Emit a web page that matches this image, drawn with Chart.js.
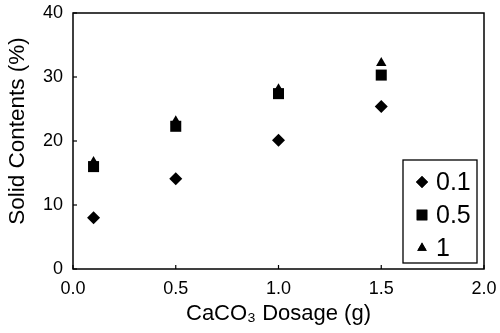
<!DOCTYPE html>
<html><head><meta charset="utf-8">
<script src="https://cdn.jsdelivr.net/npm/chart.js@4/dist/chart.umd.min.js"></script>
<style>html,body{margin:0;padding:0;background:#fff}#w{width:500px;height:333px}</style>
</head><body><div id="w"><canvas id="c"></canvas></div>
<script>
const dosage = [0.1, 0.5, 1.0, 1.5];
const series01 = [8.0, 14.1, 20.1, 25.4];
const series05 = [16.0, 22.3, 27.4, 30.3];
const series1 = [16.7, 23.1, 28.1, 32.2];
const seriesLabels = ['0.1', '0.5', '1'];
const xTicks = [0, 0.5, 1.0, 1.5, 2.0];
const yTicks = [0, 10, 20, 30, 40];
const yTitle = 'Solid Contents (%)';
const xTitle = 'CaCO₃ Dosage (g)';

const FONT = '"Liberation Sans", Arial, sans-serif';
const toPts = ys => dosage.map((x, i) => ({x, y: ys[i]}));

const boxPlugin = {
  id: 'box',
  afterDraw(chart) {
    const {ctx, chartArea: a, scales} = chart;
    ctx.save();
    ctx.strokeStyle = '#000';
    ctx.lineWidth = 1.5;
    ctx.strokeRect(a.left, a.top, a.right - a.left, a.bottom - a.top);
    ctx.lineWidth = 1.2;
    yTicks.forEach(v => {
      const p = scales.y.getPixelForValue(v);
      ctx.beginPath(); ctx.moveTo(a.left, p); ctx.lineTo(a.left + 4, p); ctx.stroke();
    });
    xTicks.forEach(v => {
      const p = scales.x.getPixelForValue(v);
      ctx.beginPath(); ctx.moveTo(p, a.bottom); ctx.lineTo(p, a.bottom - 4); ctx.stroke();
    });
    // y title
    ctx.save();
    ctx.fillStyle = '#000';
    ctx.font = '22.5px ' + FONT;
    ctx.textAlign = 'center';
    ctx.textBaseline = 'middle';
    ctx.translate(18, 131);
    ctx.rotate(-Math.PI / 2);
    ctx.fillText(yTitle, 0, 0);
    ctx.restore();
    // legend
    const lx = 403, ly = 160, lw = 74, lh = 103;
    ctx.fillStyle = '#fff';
    ctx.fillRect(lx, ly, lw, lh);
    ctx.lineWidth = 1.3;
    ctx.strokeRect(lx, ly, lw, lh);
    ctx.font = '25px ' + FONT;
    ctx.textBaseline = 'middle';
    ctx.textAlign = 'left';
    chart.data.datasets.forEach((ds, i) => {
      const cy = ly + 22 + i * 33;
      ctx.fillStyle = '#000';
      Chart.helpers.drawPoint(ctx, {pointStyle: ds.pointStyle, radius: ds.legendRadius, rotation: 0, borderWidth: 0}, lx + 19, cy);
      ctx.fill();
      ctx.fillText(ds.label, lx + 33, cy + 1);
    });
    ctx.restore();
  }
};

new Chart(document.getElementById('c'), {
  type: 'scatter',
  data: {
    datasets: [
      {label: seriesLabels[0], data: toPts(series01), pointStyle: 'rectRot', pointRadius: 6.5, legendRadius: 6, backgroundColor: '#000', borderColor: '#000', borderWidth: 0},
      {label: seriesLabels[1], data: toPts(series05), pointStyle: 'rect', pointRadius: 7.8, legendRadius: 7.5, backgroundColor: '#000', borderColor: '#000', borderWidth: 0},
      {label: seriesLabels[2], data: toPts(series1), pointStyle: 'triangle', pointRadius: 6, legendRadius: 5.5, backgroundColor: '#000', borderColor: '#000', borderWidth: 0}
    ]
  },
  options: {
    responsive: true,
    maintainAspectRatio: false,
    animation: false,
    layout: {padding: {top: 13, right: 16, left: 0, bottom: 0}},
    plugins: {legend: {display: false}, tooltip: {enabled: false}},
    scales: {
      x: {
        type: 'linear', min: 0, max: 2,
        afterBuildTicks: s => { s.ticks = xTicks.map(v => ({value: v})); },
        afterFit: s => { s.height = 64; s.paddingLeft = 0; s.paddingRight = 0; },
        grid: {display: false, drawTicks: false},
        border: {display: false},
        ticks: {color: '#000', font: {family: FONT, size: 18}, padding: 9,
          callback: v => v.toFixed(1)},
        title: {display: true, text: xTitle, color: '#000', font: {family: FONT, size: 22}, padding: {top: 0, bottom: 6}}
      },
      y: {
        type: 'linear', min: 0, max: 40,
        afterBuildTicks: s => { s.ticks = yTicks.map(v => ({value: v})); },
        afterFit: s => { s.width = 73; s.paddingTop = 0; s.paddingBottom = 0; },
        grid: {display: false, drawTicks: false},
        border: {display: false},
        ticks: {color: '#000', font: {family: FONT, size: 18}, padding: 10},
        title: {display: false}
      }
    }
  },
  plugins: [boxPlugin]
});
</script></body></html>
